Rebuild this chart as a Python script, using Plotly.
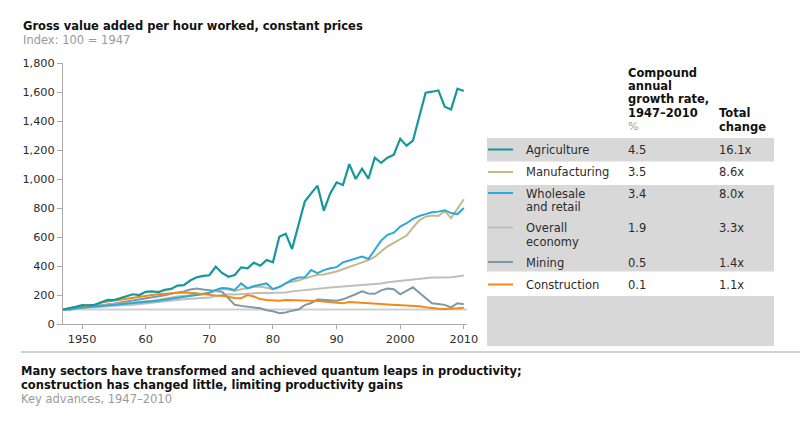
import plotly.graph_objects as go

# ---------------- data ----------------
years = list(range(1947, 2011))

agriculture = [100, 108, 118, 130, 128, 133, 150, 166, 165, 180,
               190, 205, 200, 222, 225, 220, 235, 242, 265, 268,
               300, 322, 332, 336, 395, 352, 326, 338, 391, 384,
               423, 402, 441, 425, 602, 623, 517, 680, 844, 901,
               954, 782, 901, 977, 959, 1103, 1000, 1071, 1002, 1147,
               1112, 1147, 1168, 1278, 1230, 1264, 1430, 1595, 1602, 1611,
               1499, 1480, 1623, 1607]

manufacturing = [100, 103, 107, 115, 120, 123, 130, 133, 138, 141,
                 144, 147, 153, 158, 161, 168, 176, 183, 189, 194,
                 199, 206, 211, 215, 228, 245, 238, 228, 240, 250,
                 255, 258, 250, 240, 258, 280, 292, 300, 315, 330,
                 340, 342, 350, 362, 378, 395, 412, 425, 440, 462,
                 500, 535, 560, 585, 610, 665, 715, 740, 748, 745,
                 780, 730, 795, 860]

wholesale = [100, 98, 108, 112, 115, 118, 122, 128, 132, 135,
             138, 140, 145, 148, 152, 160, 168, 175, 182, 190,
             195, 200, 205, 215, 235, 248, 245, 235, 280, 246,
             262, 270, 280, 240, 255, 280, 305, 320, 322, 372,
             350, 372, 385, 392, 425, 438, 452, 465, 448, 510,
             575, 615, 630, 672, 695, 725, 745, 758, 770, 775,
             785, 765, 758, 800]

overall = [100, 102, 104, 110, 113, 116, 120, 122, 126, 128,
           131, 133, 137, 140, 144, 150, 155, 160, 165, 170,
           173, 178, 180, 183, 192, 200, 205, 203, 206, 210,
           212, 214, 213, 213, 216, 217, 225, 230, 235, 240,
           245, 250, 252, 255, 258, 263, 265, 267, 270, 275,
           280, 288, 293, 298, 305, 310, 315, 318, 320, 321,
           321, 322, 328, 335]

mining = [100, 105, 108, 115, 120, 125, 130, 135, 140, 148,
          155, 160, 168, 175, 182, 190, 198, 208, 215, 225,
          238, 245, 238, 232, 230, 222, 178, 132, 125, 120,
          112, 108, 95, 88, 75, 80, 92, 100, 130, 145,
          168, 165, 160, 160, 170, 185, 205, 225, 210, 208,
          232, 245, 240, 205, 230, 253, 215, 180, 143, 138,
          132, 115, 143, 137]

construction = [100, 108, 118, 125, 128, 132, 148, 155, 158, 165,
                175, 180, 188, 195, 200, 205, 210, 213, 216, 218,
                216, 212, 206, 200, 196, 195, 185, 180, 178, 200,
                190, 172, 165, 160, 160, 165, 165, 163, 162, 160,
                158, 155, 152, 148, 143, 152, 150, 145, 143, 145,
                138, 135, 133, 131, 130, 126, 122, 115, 108, 105,
                104, 104, 108, 112]

sector_labels = [["Agriculture"], ["Manufacturing"], ["Wholesale", "and retail"],
                 ["Overall", "economy"], ["Mining"], ["Construction"]]
cagr = ["4.5", "3.5", "3.4", "1.9", "0.5", "0.1"]
total_change = ["16.1x", "8.6x", "8.0x", "3.3x", "1.4x", "1.1x"]

x_tickvals = [1950, 1960, 1970, 1980, 1990, 2000, 2010]
x_ticktext = ["1950", "60", "70", "80", "90", "2000", "2010"]
base_index = 100

# ---------------- styles ----------------
colors = ["#16979C", "#C3B98C", "#2AA9DE", "#BEBEBE", "#7E98AA", "#F08A1A"]
series = [agriculture, manufacturing, wholesale, overall, mining, construction]
draw_order = [3, 4, 1, 2, 5, 0]
widths = [2.2, 2, 2, 2, 2, 2]
FONT = "DejaVu Sans, Arial, sans-serif"
FS = 11.5
TXT = "#2b2b2b"
GRAY_TXT = "#9a9a9a"
BAND = "#D8D8D8"

W, H = 800, 423
PL, PR, PT, PB = 63, 467, 63, 324


def px(x):
    return (x - PL) / (PR - PL)


def py(y):
    return (PB - y) / (PB - PT)


def label(x, y, text, size=FS, color=TXT, bold=False):
    return dict(xref="paper", yref="paper", x=px(x), y=py(y),
                text=("<b>" + text + "</b>") if bold else text,
                showarrow=False, xanchor="left", yanchor="middle", borderpad=0,
                font=dict(family=FONT, size=size, color=color))


fig = go.Figure()
for i in draw_order:
    fig.add_trace(go.Scatter(x=years, y=series[i], mode="lines",
                             line=dict(color=colors[i], width=widths[i]),
                             hoverinfo="skip", showlegend=False))

shapes = []
annotations = []

# baseline at index 100
shapes.append(dict(type="line", xref="x", yref="y", x0=years[0], x1=2010.5,
                   y0=base_index, y1=base_index, line=dict(color="#CFCFCF", width=2),
                   layer="below"))

# table bands
bands = [(138, 161.5), (185, 271.5), (296, 346)]
for y0, y1 in bands:
    shapes.append(dict(type="rect", xref="paper", yref="paper",
                       x0=px(487), x1=px(774), y0=py(y1), y1=py(y0),
                       fillcolor=BAND, line=dict(width=0), layer="below"))

# legend samples and rows
line_y = [149.5, 172, 193, 227.5, 262, 284.5]
row_text_y = [[150], [172], [193.5, 207], [228, 241.5], [263], [285]]
for i in range(6):
    shapes.append(dict(type="line", xref="paper", yref="paper",
                       x0=px(488), x1=px(513), y0=py(line_y[i]), y1=py(line_y[i]),
                       line=dict(color=colors[i], width=2)))
    for k, t in enumerate(sector_labels[i]):
        annotations.append(label(525, row_text_y[i][k], t))
    annotations.append(label(627, row_text_y[i][0], cagr[i]))
    annotations.append(label(718, row_text_y[i][0], total_change[i]))

# table headers
hdr = ["Compound", "annual", "growth rate,", "1947\u20132010"]
hdr_y = [72.5, 86, 99.5, 113]
for t, y in zip(hdr, hdr_y):
    annotations.append(label(627, y, t, color="#111", bold=True))
annotations.append(label(627, 126.5, "%", size=11, color=GRAY_TXT))
for t, y in zip(["Total", "change"], [113, 126.5]):
    annotations.append(label(718, y, t, color="#111", bold=True))

# titles
annotations.append(label(22, 26, "Gross value added per hour worked, constant prices",
                         color="#111", bold=True))
annotations.append(label(22, 40, "Index: 100 = 1947", color=GRAY_TXT))

# bottom section
shapes.append(dict(type="line", xref="paper", yref="paper", x0=px(21), x1=px(800),
                   y0=py(352), y1=py(352), line=dict(color="#D0D0D0", width=2)))
annotations.append(label(20, 371, "Many sectors have transformed and achieved quantum leaps in productivity;",
                         color="#111", bold=True))
annotations.append(label(20, 385, "construction has changed little, limiting productivity gains",
                         color="#111", bold=True))
annotations.append(label(20, 399, "Key advances, 1947\u20132010", color=GRAY_TXT))

fig.update_layout(
    width=W, height=H,
    margin=dict(l=PL, r=W - PR, t=PT, b=H - PB, pad=0),
    paper_bgcolor="white", plot_bgcolor="white",
    shapes=shapes, annotations=annotations,
    showlegend=False,
    xaxis=dict(range=[years[0], 2010.5], tickvals=x_tickvals, ticktext=x_ticktext,
               ticks="outside", ticklen=4, tickcolor="#AAAAAA", tickwidth=1,
               showline=True, linecolor="#AAAAAA", linewidth=1,
               showgrid=False, zeroline=False,
               tickfont=dict(family=FONT, size=11.3, color=TXT)),
    yaxis=dict(range=[0, 1800], dtick=200, tickformat=",",
               ticks="outside", ticklen=5, tickcolor="#AAAAAA", tickwidth=1,
               showline=True, linecolor="#AAAAAA", linewidth=1,
               showgrid=False, zeroline=False,
               tickfont=dict(family=FONT, size=11.3, color=TXT)),
)

fig.write_html("out.html")
